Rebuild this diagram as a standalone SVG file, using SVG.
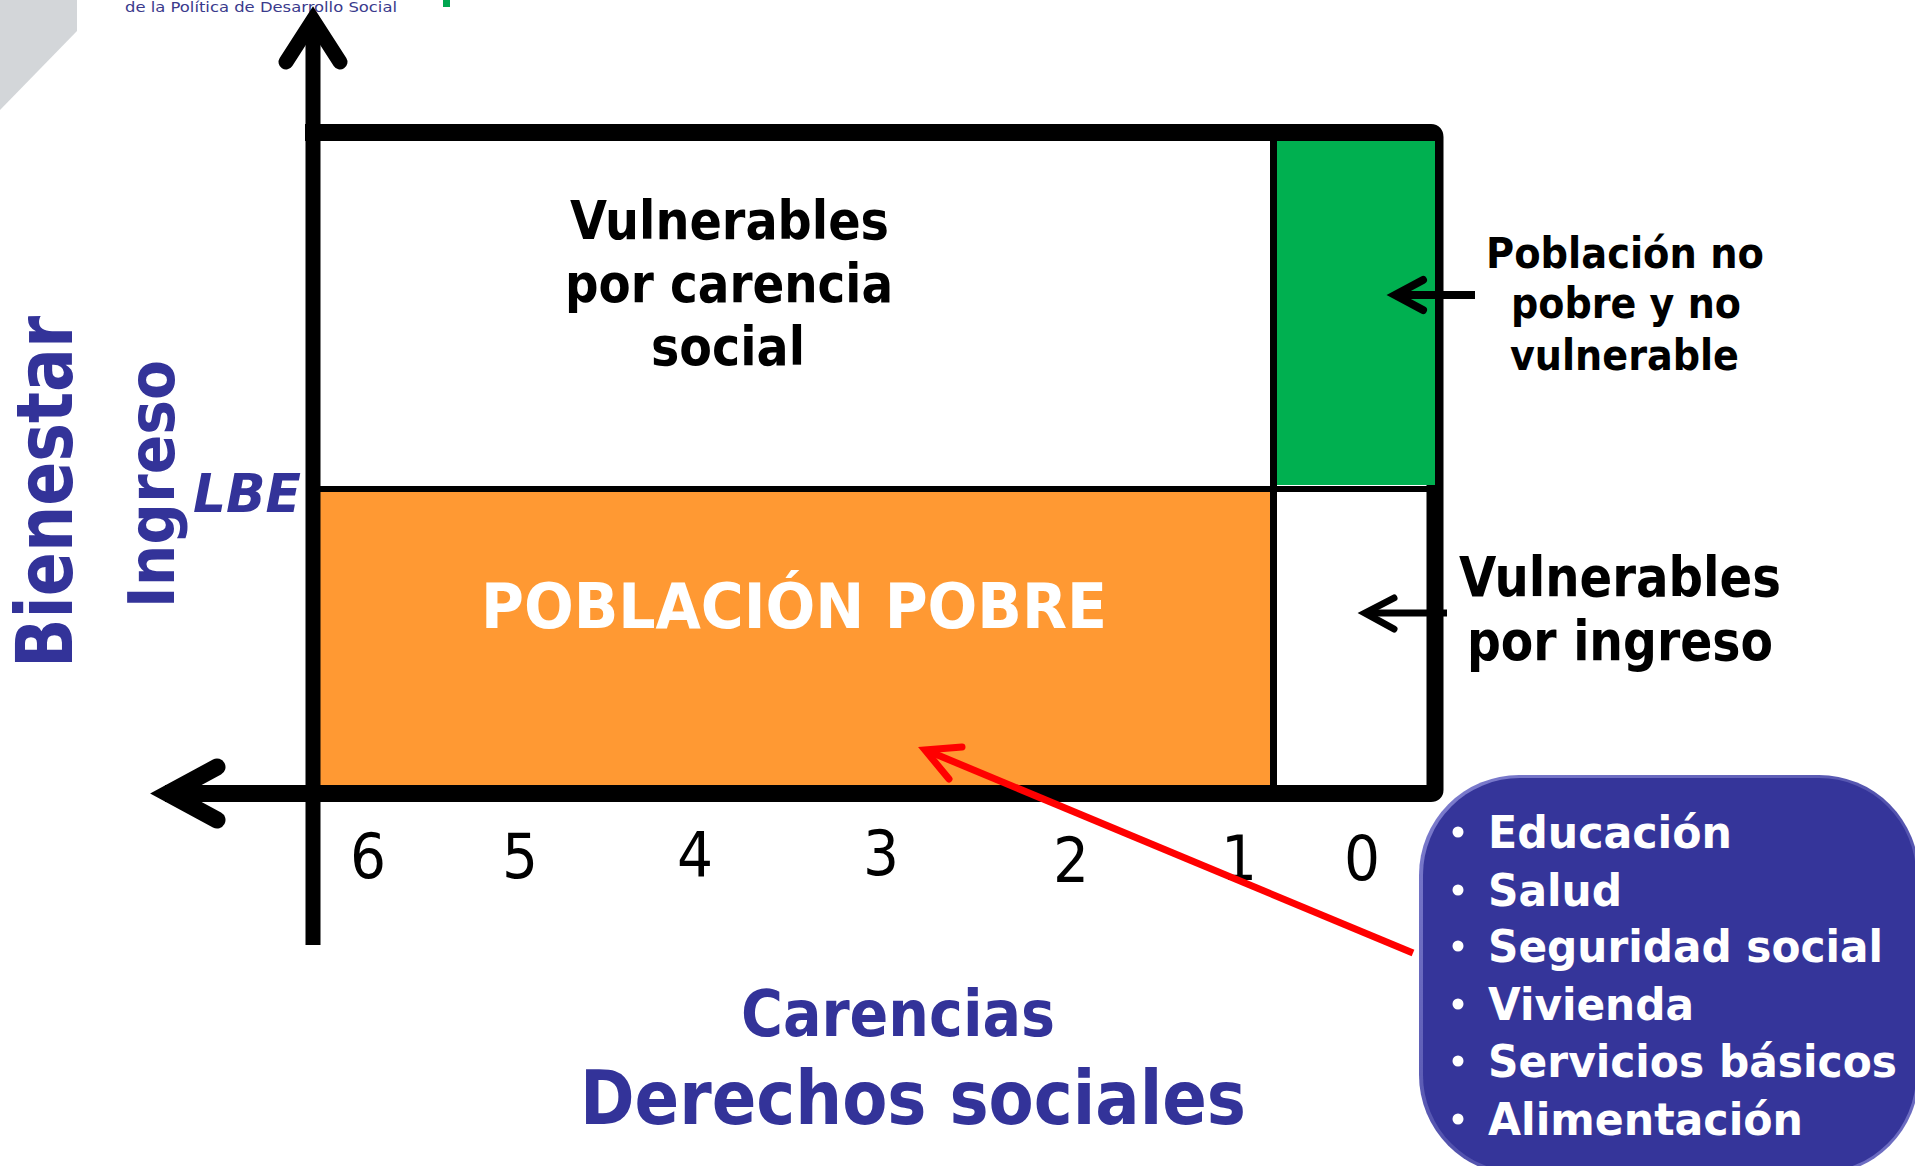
<svg xmlns="http://www.w3.org/2000/svg" width="1915" height="1166" viewBox="0 0 1915 1166">
<style>
  .bk { stroke:#000; fill:none; stroke-linecap:round; }
  .bold { font-family:"DejaVu Sans Condensed","DejaVu Sans",sans-serif; font-weight:bold; }
  .blk { fill:#000; }
  .blue { fill:#333399; }
  .wht { fill:#fff; }
  .num { font-family:"DejaVu Sans Condensed","DejaVu Sans",sans-serif; font-size:63px; fill:#000; text-anchor:middle; }
  .item { font-family:"DejaVu Sans Condensed","DejaVu Sans",sans-serif; font-weight:bold; font-size:45px; fill:#fff; }
</style>
<defs>
  <linearGradient id="rim" x1="0" y1="0" x2="1" y2="1">
    <stop offset="0" stop-color="#8080d0"/>
    <stop offset="0.5" stop-color="#5252ad"/>
    <stop offset="1" stop-color="#7070c4"/>
  </linearGradient>
</defs>
<rect width="1915" height="1166" fill="#fff"/>

<!-- header fragments -->
<g id="header">
  <polygon points="0,0 77,0 77,31 0,110" fill="#d3d6d9"/>
  <text x="125" y="12" font-family="DejaVu Sans, sans-serif" font-size="14" fill="#3a3a8c" textLength="272" lengthAdjust="spacingAndGlyphs">de la Política de Desarrollo Social</text>
  <rect x="443" y="0" width="7" height="7" fill="#00a650"/>
</g>

<!-- regions -->
<g id="vuln-carencia">
  <rect x="320" y="141" width="950" height="348" fill="#fff"/>
  <text class="bold blk" font-size="53" x="570" y="239" textLength="319" lengthAdjust="spacingAndGlyphs">Vulnerables</text>
  <text class="bold blk" font-size="53" x="565" y="302" textLength="328" lengthAdjust="spacingAndGlyphs">por carencia</text>
  <text class="bold blk" font-size="53" x="651" y="365" textLength="154" lengthAdjust="spacingAndGlyphs">social</text>
</g>
<g id="poblacion-pobre">
  <rect x="320" y="492" width="950" height="293" fill="#ff9933"/>
  <text class="bold wht" font-size="63" x="481" y="628" textLength="626" lengthAdjust="spacingAndGlyphs">POBLACIÓN POBRE</text>
</g>
<g id="vuln-ingreso">
  <rect x="1277" y="490" width="150" height="295" fill="#fff"/>
  <text class="bold blk" font-size="55" x="1459" y="596" textLength="322" lengthAdjust="spacingAndGlyphs">Vulnerables</text>
  <text class="bold blk" font-size="55" x="1467" y="660" textLength="306" lengthAdjust="spacingAndGlyphs">por ingreso</text>
</g>

<!-- frame and axes -->
<g id="frame">
  <line x1="320" y1="489" x2="1430" y2="489" stroke="#000" stroke-width="6"/>
  <line x1="1273.5" y1="138" x2="1273.5" y2="788" stroke="#000" stroke-width="7"/>
  <path d="M305,132.5 H1431 Q1435,132.5 1435,137 V790 Q1435,793.5 1431,793.5 H165" fill="none" stroke="#000" stroke-width="17" stroke-linejoin="round"/>
</g>
<g id="no-pobre">
  <rect x="1277" y="141" width="158" height="344" fill="#00b050"/>
  <text class="bold blk" font-size="42" x="1486" y="268" textLength="278" lengthAdjust="spacingAndGlyphs">Población no</text>
  <text class="bold blk" font-size="42" x="1511" y="318" textLength="230" lengthAdjust="spacingAndGlyphs">pobre y no</text>
  <text class="bold blk" font-size="42" x="1510" y="370" textLength="229" lengthAdjust="spacingAndGlyphs">vulnerable</text>
</g>
<g id="axes">
  <line x1="313" y1="24" x2="313" y2="945" stroke="#000" stroke-width="15"/>
  <polyline points="286,62 313,20 340,62" class="bk" stroke-width="15" stroke-linejoin="miter"/>
  <polyline points="217,767 168,793.5 217,820" class="bk" stroke-width="17" stroke-linejoin="miter"/>
</g>

<!-- axis labels -->
<g id="axis-labels">
  <text class="bold blue" font-size="78" transform="translate(72,668) rotate(-90)" textLength="352" lengthAdjust="spacingAndGlyphs">Bienestar</text>
  <text class="bold blue" font-size="64" transform="translate(174,608) rotate(-90)" textLength="248" lengthAdjust="spacingAndGlyphs">Ingreso</text>
  <text class="bold blue" font-size="53" font-style="italic" x="193" y="512" textLength="108" lengthAdjust="spacingAndGlyphs">LBE</text>
  <text class="num" x="368" y="878">6</text>
  <text class="num" x="520" y="878">5</text>
  <text class="num" x="695" y="877">4</text>
  <text class="num" x="881" y="875">3</text>
  <text class="num" x="1071" y="882">2</text>
  <text class="num" x="1239" y="880">1</text>
  <text class="num" x="1362" y="880">0</text>
  <text class="bold blue" font-size="64" x="741" y="1036" textLength="314" lengthAdjust="spacingAndGlyphs">Carencias</text>
  <text class="bold blue" font-size="74" x="580" y="1124" textLength="666" lengthAdjust="spacingAndGlyphs">Derechos sociales</text>
</g>

<!-- derechos box -->
<g id="derechos-box">
  <rect x="1419" y="775" width="500" height="400" rx="100" ry="100" fill="url(#rim)"/>
  <rect x="1423" y="778" width="493" height="394" rx="97" ry="97" fill="#35359a"/>
  <circle cx="1458" cy="832" r="5.5" fill="#fff"/>
  <circle cx="1458" cy="890" r="5.5" fill="#fff"/>
  <circle cx="1458" cy="946" r="5.5" fill="#fff"/>
  <circle cx="1458" cy="1004" r="5.5" fill="#fff"/>
  <circle cx="1458" cy="1061" r="5.5" fill="#fff"/>
  <circle cx="1458" cy="1119" r="5.5" fill="#fff"/>
  <text class="item" x="1488" y="848" textLength="244" lengthAdjust="spacingAndGlyphs">Educación</text>
  <text class="item" x="1488" y="906" textLength="134" lengthAdjust="spacingAndGlyphs">Salud</text>
  <text class="item" x="1488" y="962" textLength="395" lengthAdjust="spacingAndGlyphs">Seguridad social</text>
  <text class="item" x="1488" y="1020" textLength="206" lengthAdjust="spacingAndGlyphs">Vivienda</text>
  <text class="item" x="1488" y="1077" textLength="409" lengthAdjust="spacingAndGlyphs">Servicios básicos</text>
  <text class="item" x="1488" y="1135" textLength="315" lengthAdjust="spacingAndGlyphs">Alimentación</text>
</g>

<!-- connectors -->
<g id="connectors">
  <line x1="1396" y1="295" x2="1475" y2="295" stroke="#000" stroke-width="8"/>
  <polyline points="1423,280 1395,295 1423,310" class="bk" stroke-width="8" stroke-linejoin="miter"/>
  <line x1="1366" y1="613" x2="1447" y2="613" stroke="#000" stroke-width="7"/>
  <polyline points="1394,598 1365,613 1394,629" class="bk" stroke-width="7" stroke-linejoin="miter"/>
  <line x1="928" y1="751" x2="1413" y2="953" stroke="#ff0000" stroke-width="7"/>
  <polyline points="962,747 925,750 949,779" fill="none" stroke="#ff0000" stroke-width="7" stroke-linecap="round" stroke-linejoin="miter"/>
</g>
</svg>
